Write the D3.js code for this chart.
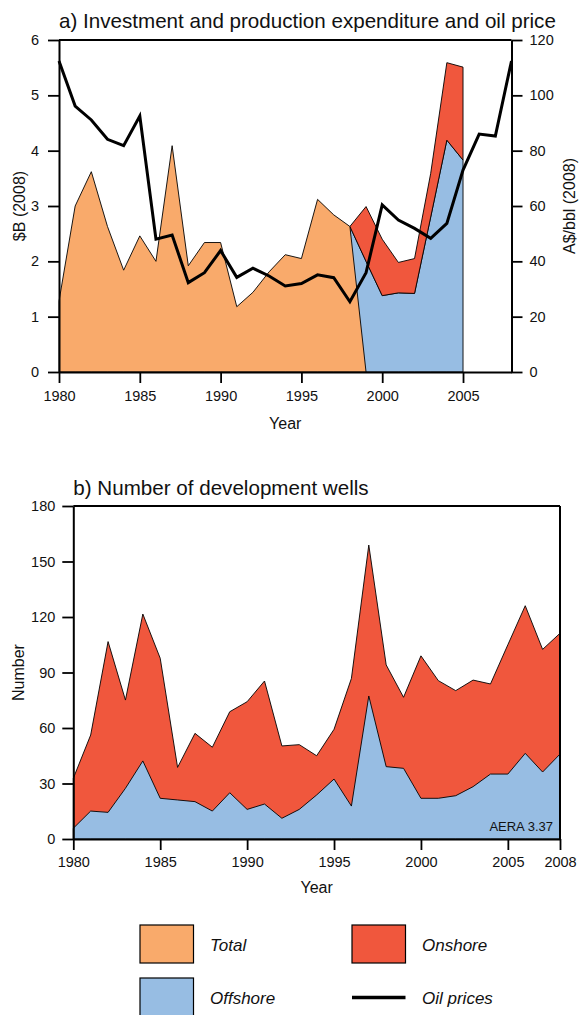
<!DOCTYPE html>
<html><head><meta charset="utf-8">
<script src="https://cdn.jsdelivr.net/npm/d3@7"></script>
<style>
body{margin:0;background:#fff;}
svg text{font-family:"Liberation Sans",Arial,Helvetica,sans-serif;fill:#111;}
</style></head>
<body><svg id="c" width="579" height="1015"></svg>
<script>
// ---------- Data ----------
// Panel a
const totalYears = [1980,1981,1982,1983,1984,1985,1986,1987,1988,1989,1990,1991,1992,1993,1994,1995,1996,1997,1998,1999];
const totalExp   = [1.28,3.0,3.62,2.63,1.84,2.46,2.0,4.09,1.92,2.34,2.34,1.18,1.44,1.81,2.12,2.05,3.12,2.84,2.63,0];
const splitYears = [1998,1999,2000,2001,2002,2003,2004,2005];
const offshoreExp = [2.63,2.0,1.38,1.43,1.42,2.8,4.19,3.83];
const onshoreExp  = [0,0.99,1.02,0.55,0.63,0.79,1.40,1.68];
const oilYears = [1980,1981,1982,1983,1984,1985,1986,1987,1988,1989,1990,1991,1992,1993,1994,1995,1996,1997,1998,1999,2000,2001,2002,2003,2004,2005,2006,2007,2008];
const oilPrice = [112.4,96.1,91.1,84.1,81.8,92.5,48.0,49.5,32.3,35.9,43.9,34.2,37.5,34.7,31.1,32.0,35.1,34.1,25.4,35.9,60.4,54.9,51.9,48.3,53.7,73.0,86.0,85.3,112.4];
const ticksA_x = [1980,1985,1990,1995,2000,2005];
const ticksA_yl = [0,1,2,3,4,5,6];
const ticksA_yr = [0,20,40,60,80,100,120];
// Panel b
const wellYears = oilYears;
const offshoreWells = [5.8,15.1,14.4,27.4,42.2,22.0,21.1,20.2,15.1,25.0,16.0,18.9,11.2,16.0,23.8,32.4,17.8,77.3,39.1,38.2,22.0,22.0,23.4,28.3,35.1,35.1,46.3,36.2,45.9];
const onshoreWells  = [27.0,41.1,92.3,47.7,79.4,75.7,17.6,36.9,34.5,43.8,58.2,66.5,39.1,35.0,21.2,26.9,69.0,81.6,55.0,38.4,77.0,63.6,56.8,57.6,48.7,69.9,79.8,66.3,65.3];
const ticksB_x = [1980,1985,1990,1995,2000,2005,2008];
const ticksB_y = [0,30,60,90,120,150,180];

const C_TOTAL = "#F9AA6B", C_ON = "#F0573D", C_OFF = "#97BDE3";

const svg = d3.select("#c");
const TICK = 11;

function styleAxis(g){
  g.selectAll("path.domain").attr("stroke","#000").attr("stroke-width",2);
  g.selectAll(".tick line").attr("stroke","#000").attr("stroke-width",1.8);
  g.selectAll(".tick text").attr("font-size","14.5px").attr("fill","#111")
    .style("font-family","'Liberation Sans',Arial,sans-serif");
}

// ---------- Panel a ----------
{
  const x = d3.scaleLinear().domain([1980,2008]).range([59,511.5]);
  const yL = d3.scaleLinear().domain([0,6]).range([372,40]);
  const yR = d3.scaleLinear().domain([0,120]).range([372,40]);
  const g = svg.append("g");

  const offData = splitYears.map((yr,i)=>({yr, v:offshoreExp[i]}));
  g.append("path").datum(offData)
    .attr("d", d3.area().x(d=>x(d.yr)).y0(yL(0)).y1(d=>yL(d.v)))
    .attr("fill",C_OFF).attr("stroke","#000").attr("stroke-width",0.9);
  const onData = splitYears.map((yr,i)=>({yr, lo:offshoreExp[i], hi:offshoreExp[i]+onshoreExp[i]}));
  g.append("path").datum(onData)
    .attr("d", d3.area().x(d=>x(d.yr)).y0(d=>yL(d.lo)).y1(d=>yL(d.hi)))
    .attr("fill",C_ON).attr("stroke","#000").attr("stroke-width",0.9);
  const totData = totalYears.map((yr,i)=>({yr, v:totalExp[i]}));
  g.append("path").datum(totData)
    .attr("d", d3.area().x(d=>x(d.yr)).y0(yL(0)).y1(d=>yL(d.v)))
    .attr("fill",C_TOTAL).attr("stroke","#000").attr("stroke-width",0.9);
  const oilData = oilYears.map((yr,i)=>({yr, v:oilPrice[i]}));
  g.append("path").datum(oilData)
    .attr("d", d3.line().x(d=>x(d.yr)).y(d=>yR(d.v)))
    .attr("fill","none").attr("stroke","#000").attr("stroke-width",3).attr("stroke-linejoin","miter");

  g.append("line").attr("x1",x(1980)).attr("x2",x(2008)).attr("y1",yL(6)).attr("y2",yL(6))
    .attr("stroke","#000").attr("stroke-width",2);

  const ax = g.append("g").attr("transform",`translate(0,${yL(0)})`)
    .call(d3.axisBottom(x).tickValues(ticksA_x).tickFormat(d3.format("d")).tickSize(TICK).tickSizeOuter(0).tickPadding(8));
  styleAxis(ax);
  const al = g.append("g").attr("transform",`translate(${x(1980)},0)`)
    .call(d3.axisLeft(yL).tickValues(ticksA_yl).tickFormat(d3.format("d")).tickSize(TICK).tickSizeOuter(0).tickPadding(9));
  styleAxis(al);
  const ar = g.append("g").attr("transform",`translate(${x(2008)},0)`)
    .call(d3.axisRight(yR).tickValues(ticksA_yr).tickFormat(d3.format("d")).tickSize(TICK).tickSizeOuter(0).tickPadding(7));
  styleAxis(ar);

  g.append("text").attr("x",59).attr("y",28).attr("font-size","20.6px")
    .text("a) Investment and production expenditure and oil price");
  g.append("text").attr("x",(x(1980)+x(2008))/2).attr("y",429).attr("text-anchor","middle")
    .attr("font-size","16px").text("Year");
  g.append("text").attr("transform",`translate(19,${(yL(0)+yL(6))/2}) rotate(-90)`)
    .attr("text-anchor","middle").attr("dy","0.35em").attr("font-size","16px").text("$B (2008)");
  g.append("text").attr("transform",`translate(569,${(yL(0)+yL(6))/2}) rotate(-90)`)
    .attr("text-anchor","middle").attr("dy","0.35em").attr("font-size","16px").text("A$/bbl (2008)");
}

// ---------- Panel b ----------
{
  const x = d3.scaleLinear().domain([1980,2008]).range([73.3,560]);
  const y = d3.scaleLinear().domain([0,180]).range([839,506]);
  const g = svg.append("g");
  const rows = wellYears.map((yr,i)=>({yr, off:offshoreWells[i], on:onshoreWells[i]}));
  const stack = d3.stack().keys(["off","on"])(rows);
  const cols = [C_OFF, C_ON];
  [1,0].forEach(k=>{
    g.append("path").datum(stack[k])
      .attr("d", d3.area().x(d=>x(d.data.yr)).y0(d=>y(k===1?0:d[0])).y1(d=>y(d[1])))
      .attr("fill",cols[k]).attr("stroke","#000").attr("stroke-width",0.9);
  });

  g.append("line").attr("x1",x(1980)).attr("x2",x(2008)).attr("y1",y(180)).attr("y2",y(180))
    .attr("stroke","#000").attr("stroke-width",2);
  g.append("line").attr("x1",x(2008)).attr("x2",x(2008)).attr("y1",y(180)).attr("y2",y(0))
    .attr("stroke","#000").attr("stroke-width",2);

  const ax = g.append("g").attr("transform",`translate(0,${y(0)})`)
    .call(d3.axisBottom(x).tickValues(ticksB_x).tickFormat(d3.format("d")).tickSize(TICK).tickSizeOuter(0).tickPadding(7));
  styleAxis(ax);
  const al = g.append("g").attr("transform",`translate(${x(1980)},0)`)
    .call(d3.axisLeft(y).tickValues(ticksB_y).tickFormat(d3.format("d")).tickSize(TICK).tickSizeOuter(0).tickPadding(7));
  styleAxis(al);

  g.append("text").attr("x",73.3).attr("y",495).attr("font-size","20.6px").text("b) Number of development wells");
  g.append("text").attr("x",(x(1980)+x(2008))/2).attr("y",893).attr("text-anchor","middle")
    .attr("font-size","16px").text("Year");
  g.append("text").attr("transform",`translate(18.5,${(y(0)+y(180))/2}) rotate(-90)`)
    .attr("text-anchor","middle").attr("dy","0.35em").attr("font-size","16px").text("Number");
  g.append("text").attr("x",553).attr("y",831).attr("text-anchor","end").attr("font-size","13px").text("AERA 3.37");
}

// ---------- Legend ----------
{
  const legendItems = [
    {label:"Total", type:"rect", color:C_TOTAL, x:140, y:925},
    {label:"Onshore", type:"rect", color:C_ON, x:352, y:925},
    {label:"Offshore", type:"rect", color:C_OFF, x:140, y:978},
    {label:"Oil prices", type:"line", color:"#000", x:352, y:978}
  ];
  const g = svg.append("g");
  legendItems.forEach(it=>{
    if(it.type==="rect"){
      g.append("rect").attr("x",it.x).attr("y",it.y).attr("width",53.5).attr("height",38)
        .attr("fill",it.color).attr("stroke","#000").attr("stroke-width",1.2);
    } else {
      g.append("line").attr("x1",it.x).attr("x2",it.x+53.5).attr("y1",it.y+19.5).attr("y2",it.y+19.5)
        .attr("stroke","#000").attr("stroke-width",3.5);
    }
    g.append("text").attr("x",it.x+70).attr("y",it.y+26).attr("font-size","17px")
      .attr("font-style","italic").text(it.label);
  });
}
</script></body></html>
